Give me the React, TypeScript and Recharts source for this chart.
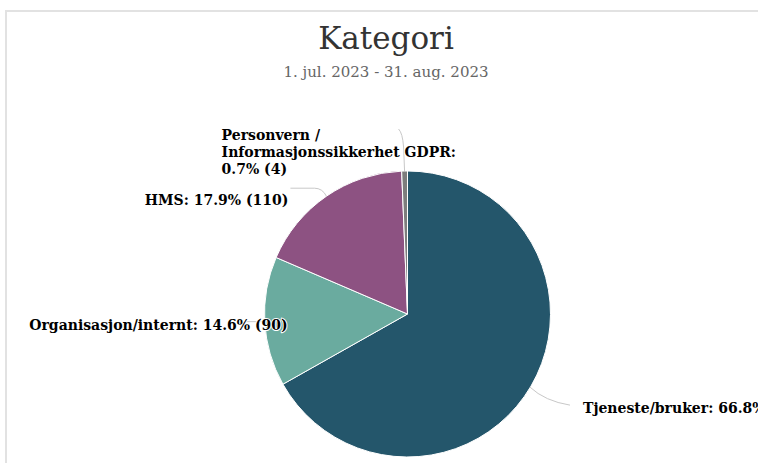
import React from "react";
import { PieChart, Pie, Cell } from "recharts";

const categories = ["Tjeneste/bruker", "Organisasjon/internt", "HMS", "Personvern / Informasjonssikkerhet GDPR"];
const counts = [411, 90, 110, 4];
const colors = ["#24566b", "#6aab9f", "#8d5282", "#7d7d7d"];
const titleText = "Kategori";
const subtitleText = "1. jul. 2023 - 31. aug. 2023";

const total = counts.reduce((a, b) => a + b, 0);
const data = categories.map((name, i) => ({ name, value: counts[i] }));

const FONT = "'DejaVu Serif', serif";
const RAD = Math.PI / 180;

// label layout relative to the slice edge point (styling only)
const labelLayout = [
  { path: (ex: number, ey: number) => `M${ex - 1},${ey + 1} Q${ex + 14},${ey + 15} ${ex + 39},${ey + 19}`, tx: 52, ty: 27, anchor: "start" },
  { path: (ex: number, ey: number) => `M${ex},${ey} L${ex - 24},${ey}`, tx: 23, ty: 8, anchor: "end" },
  { path: (ex: number, ey: number) => `M${ex},${ey} Q${ex - 4},${ey - 8} ${ex - 12},${ey - 8} L${ex - 36},${ey - 8}`, tx: -38, ty: 9, anchor: "end" },
  { path: (ex: number, ey: number) => `M${ex},${ey} L${ex - 1},${ey - 24} Q${ex - 2},${ey - 38} ${ex - 6},${ey - 42}`, tx: -183, ty: -31, anchor: "start" },
];

const renderLabel = (props: any) => {
  const { cx, cy, midAngle, outerRadius, index, value, name } = props;
  const ex = cx + outerRadius * Math.cos(-midAngle * RAD);
  const ey = cy + outerRadius * Math.sin(-midAngle * RAD);
  const lay = labelLayout[index];
  const pct = ((value / total) * 100).toFixed(1);
  let lines: string[];
  if (index === 3) {
    lines = ["Personvern /", "Informasjonssikkerhet GDPR:", `${pct}% (${value})`];
  } else {
    lines = [`${name}: ${pct}% (${value})`];
  }
  return (
    <g key={`lbl-${index}`}>
      <path d={lay.path(ex, ey)} stroke="#c8c8c8" strokeWidth={1} fill="none" />
      <text
        x={ex + lay.tx}
        y={ey + lay.ty}
        textAnchor={lay.anchor as any}
        fontFamily={FONT}
        fontWeight="bold"
        fontSize={14}
        fill="#000"
        stroke="#fff"
        strokeWidth={2}
        strokeLinejoin="round"
        paintOrder="stroke"
      >
        {lines.map((l, i) => (
          <tspan key={i} x={ex + lay.tx} dy={i === 0 ? 0 : 17}>
            {l}
          </tspan>
        ))}
      </text>
    </g>
  );
};

export default function App() {
  return (
    <div style={{ position: "absolute", left: 0, top: 0, width: 758, height: 463, overflow: "hidden", background: "#fff" }}>
      <div
        style={{
          position: "absolute",
          left: 5,
          top: 10,
          width: 780,
          height: 520,
          border: "2px solid #e2e2e2",
          boxSizing: "border-box",
        }}
      />
      <div
        style={{
          position: "absolute",
          left: 0,
          width: 772,
          top: 18,
          textAlign: "center",
          fontFamily: FONT,
          fontSize: 31,
          color: "#333",
          lineHeight: "40px",
        }}
      >
        {titleText}
      </div>
      <div
        style={{
          position: "absolute",
          left: 0,
          width: 772,
          top: 62,
          textAlign: "center",
          fontFamily: FONT,
          fontSize: 15,
          color: "#666",
          lineHeight: "20px",
        }}
      >
        {subtitleText}
      </div>
      <div style={{ position: "absolute", left: 0, top: 0 }}>
        <PieChart width={758} height={463} margin={{ top: 0, right: 0, bottom: 0, left: 0 }}>
          <Pie
            data={data}
            dataKey="value"
            nameKey="name"
            cx={407.5}
            cy={314}
            outerRadius={143}
            startAngle={90}
            endAngle={-270}
            stroke="#fff"
            strokeWidth={1}
            label={renderLabel}
            labelLine={false}
            isAnimationActive={false}
          >
            {data.map((d, i) => (
              <Cell key={d.name} fill={colors[i]} />
            ))}
          </Pie>
        </PieChart>
      </div>
    </div>
  );
}
